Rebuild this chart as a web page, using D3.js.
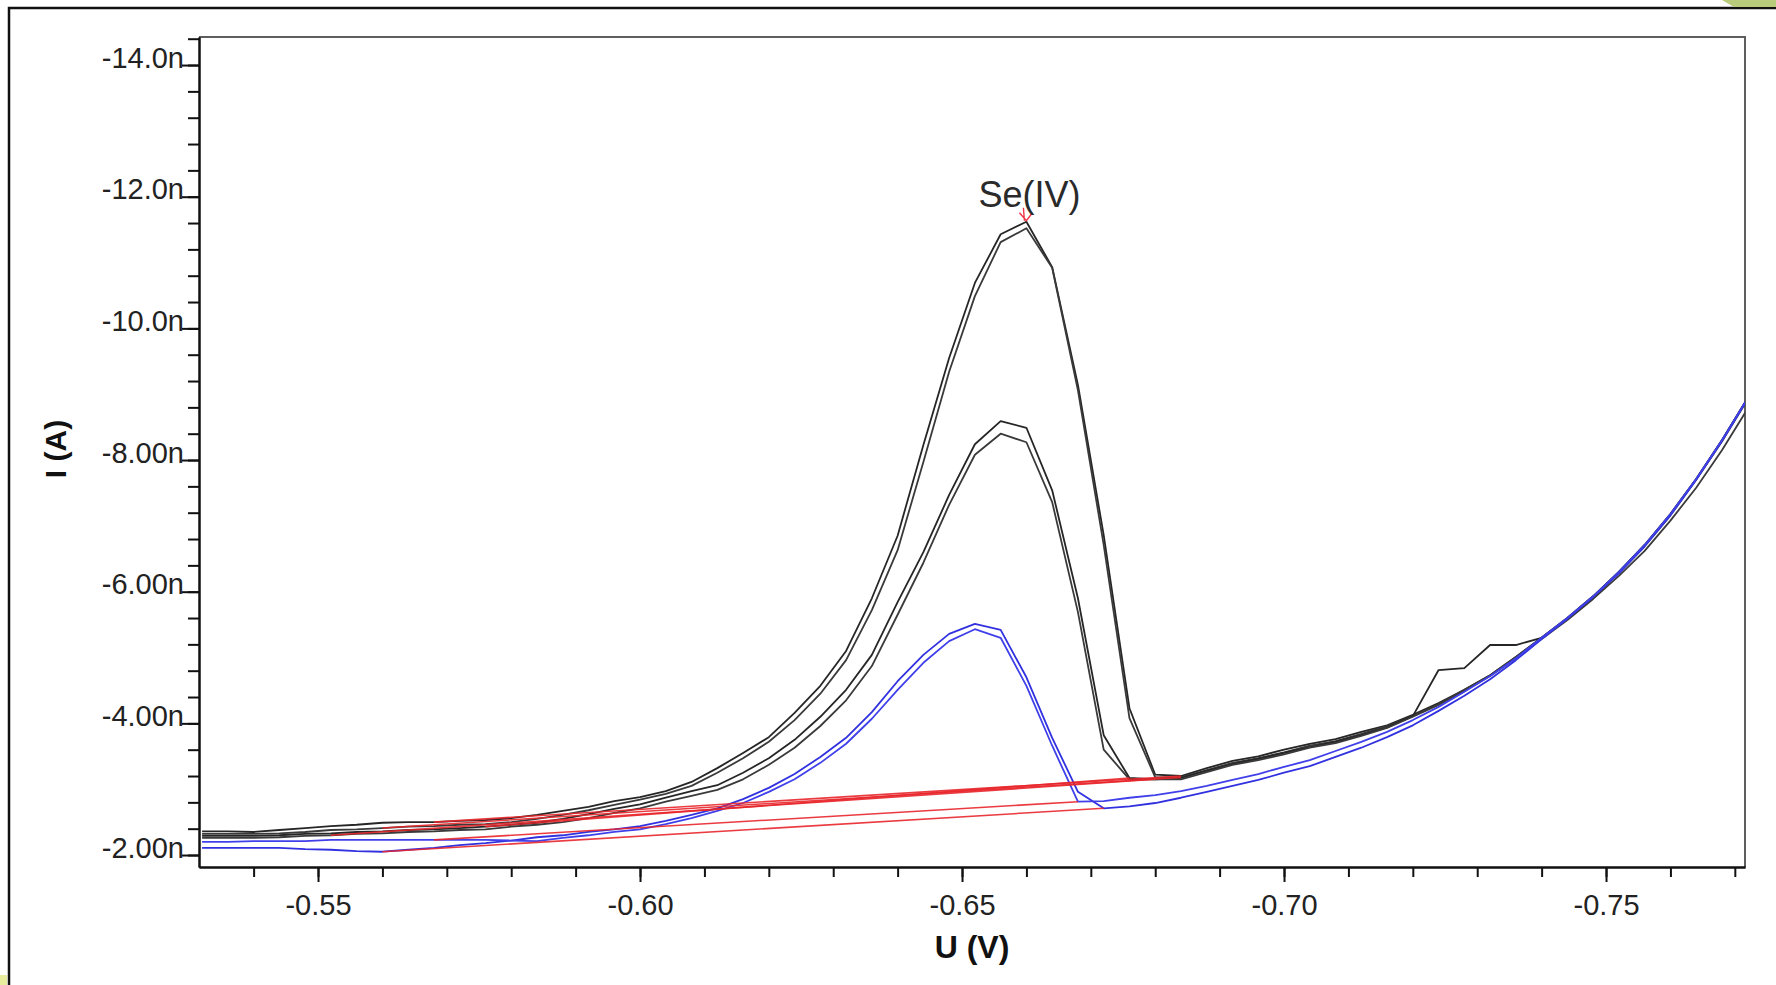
<!DOCTYPE html>
<html>
<head>
<meta charset="utf-8">
<script src="https://cdn.jsdelivr.net/npm/d3@7"></script>
<style>
	html, body { margin: 0; padding: 0; background: #fff; }
	svg { display: block; font-family: "Liberation Sans", Arial, sans-serif; }
	.axis path, .axis line { stroke: #111; stroke-width: 2; }
	.axis text { fill: #222; font-size: 29px; font-family: "Liberation Sans", Arial, sans-serif; }
</style>
</head>
<body>
<div id="chart"></div>
<script>
// potential steps (V)
var potentials = [
	-0.532, -0.536, -0.540, -0.544, -0.548, -0.552, -0.556, -0.560, -0.564, -0.568,
	-0.572, -0.576, -0.580, -0.584, -0.588, -0.592, -0.596, -0.600, -0.604, -0.608,
	-0.612, -0.616, -0.620, -0.624, -0.628, -0.632, -0.636, -0.640, -0.644, -0.648,
	-0.652, -0.656, -0.660, -0.664, -0.668, -0.672, -0.676, -0.680, -0.684, -0.688,
	-0.692, -0.696, -0.700, -0.704, -0.708, -0.712, -0.716, -0.720, -0.724, -0.728,
	-0.732, -0.736, -0.740, -0.744, -0.748, -0.752, -0.756, -0.760, -0.764, -0.768,
	-0.772
];
// currents (nA)
var high1 = [
	-2.36, -2.36, -2.35, -2.38, -2.41, -2.44, -2.46, -2.49, -2.50, -2.50,
	-2.52, -2.53, -2.56, -2.61, -2.67, -2.73, -2.82, -2.88, -2.97, -3.11,
	-3.32, -3.55, -3.79, -4.16, -4.57, -5.10, -5.90, -6.85, -8.23, -9.55,
	-10.69, -11.43, -11.62, -10.93, -9.14, -6.86, -4.23, -3.22, -3.20, -3.32,
	-3.43, -3.50, -3.60, -3.69, -3.76, -3.87, -3.97, -4.13, -4.31, -4.51,
	-4.73, -5.01, -5.30, -5.60, -5.93, -6.30, -6.71, -7.18, -7.71, -8.30,
	-8.94
];
var high2 = [
	-2.32, -2.32, -2.32, -2.33, -2.35, -2.38, -2.39, -2.41, -2.43, -2.44,
	-2.46, -2.47, -2.50, -2.55, -2.61, -2.68, -2.76, -2.84, -2.93, -3.05,
	-3.25, -3.47, -3.72, -4.05, -4.45, -4.96, -5.72, -6.63, -7.97, -9.34,
	-10.49, -11.31, -11.52, -10.92, -9.06, -6.71, -4.08, -3.18, -3.18, -3.29,
	-3.40, -3.47, -3.56, -3.66, -3.73, -3.84, -3.96, -4.11, -4.29, -4.51,
	-4.73, -5.01, -5.30, -5.59, -5.91, -6.29, -6.69, -7.16, -7.70, -8.28,
	-8.92
];
var mid1 = [
	-2.29, -2.29, -2.29, -2.30, -2.32, -2.33, -2.35, -2.36, -2.38, -2.39,
	-2.41, -2.43, -2.46, -2.49, -2.55, -2.62, -2.70, -2.77, -2.87, -2.97,
	-3.06, -3.25, -3.47, -3.75, -4.10, -4.51, -5.04, -5.84, -6.60, -7.47,
	-8.24, -8.59, -8.49, -7.54, -5.90, -3.82, -3.17, -3.15, -3.17, -3.28,
	-3.38, -3.46, -3.55, -3.64, -3.72, -3.82, -3.94, -4.11, -4.81, -4.84,
	-5.19, -5.19, -5.30, -5.60, -5.93, -6.30, -6.71, -7.18, -7.71, -8.30,
	-8.94
];
var mid2 = [
	-2.26, -2.26, -2.26, -2.27, -2.29, -2.30, -2.32, -2.33, -2.35, -2.36,
	-2.38, -2.39, -2.43, -2.46, -2.50, -2.56, -2.64, -2.71, -2.81, -2.90,
	-2.99, -3.15, -3.37, -3.63, -3.96, -4.35, -4.87, -5.65, -6.44, -7.32,
	-8.08, -8.40, -8.27, -7.36, -5.69, -3.60, -3.15, -3.15, -3.15, -3.26,
	-3.37, -3.44, -3.53, -3.63, -3.70, -3.81, -3.93, -4.10, -4.28, -4.49,
	-4.72, -4.99, -5.28, -5.57, -5.89, -6.24, -6.62, -7.08, -7.58, -8.15,
	-8.78
];
var blue1 = [
	-2.11, -2.11, -2.11, -2.11, -2.09, -2.08, -2.06, -2.05, -2.08, -2.11,
	-2.15, -2.18, -2.22, -2.27, -2.30, -2.35, -2.39, -2.44, -2.52, -2.61,
	-2.71, -2.85, -3.02, -3.23, -3.49, -3.78, -4.17, -4.64, -5.04, -5.36,
	-5.51, -5.42, -4.70, -3.78, -2.96, -2.71, -2.74, -2.79, -2.87, -2.96,
	-3.05, -3.14, -3.25, -3.35, -3.49, -3.63, -3.79, -3.97, -4.19, -4.42,
	-4.67, -4.96, -5.28, -5.59, -5.92, -6.28, -6.69, -7.16, -7.70, -8.29,
	-8.93
];
var blue2 = [
	-2.20, -2.20, -2.21, -2.21, -2.21, -2.23, -2.23, -2.23, -2.23, -2.23,
	-2.23, -2.23, -2.22, -2.21, -2.26, -2.30, -2.35, -2.39, -2.47, -2.56,
	-2.67, -2.79, -2.96, -3.15, -3.40, -3.69, -4.07, -4.51, -4.92, -5.25,
	-5.43, -5.30, -4.57, -3.66, -2.81, -2.82, -2.87, -2.91, -2.97, -3.05,
	-3.14, -3.23, -3.34, -3.44, -3.58, -3.72, -3.87, -4.05, -4.25, -4.48,
	-4.72, -4.99, -5.30, -5.60, -5.93, -6.30, -6.71, -7.18, -7.71, -8.30,
	-8.94
];
// baseline start / end index for each curve (same order as curves below)
var baselineFrom = [9, 7, 11, 5, 7, 9];
var baselineTo = [38, 38, 36, 37, 35, 34];
var peakIndex = 32;
var peakLabel = 'Se(IV)';

var yMajorTicks = [-2, -4, -6, -8, -10, -12, -14];
var yTickLabels = ['-2.00n', '-4.00n', '-6.00n', '-8.00n', '-10.0n', '-12.0n', '-14.0n'];
var xMajorTicks = [-0.55, -0.60, -0.65, -0.70, -0.75];
var xTickLabels = ['-0.55', '-0.60', '-0.65', '-0.70', '-0.75'];
var xTitle = 'U (V)';
var yTitle = 'I (A)';

var curves = [
	{values: high1, color: '#262626'},
	{values: high2, color: '#3a3a3a'},
	{values: mid1, color: '#262626'},
	{values: mid2, color: '#3a3a3a'},
	{values: blue1, color: '#3131e0'},
	{values: blue2, color: '#4040ea'}
];

var W = 1776, H = 985;
var margin = {top: 37, right: 31, bottom: 118, left: 199};
var width = W - margin.left - margin.right;
var height = H - margin.top - margin.bottom;

var root = d3.select('#chart').append('svg')
	.attr('width', W)
	.attr('height', H);

// page frame left over from the slide
root.append('path')
	.attr('d', 'M9,990 V8 H1790')
	.attr('fill', 'none')
	.attr('stroke', '#111')
	.attr('stroke-width', 2.5);
root.append('polygon')
	.attr('points', '1722,0 1776,0 1776,7 1734,7')
	.attr('fill', '#b8cc7c');
root.append('rect')
	.attr('x', 0).attr('y', 975).attr('width', 7).attr('height', 10)
	.attr('fill', '#e9ec9c');

var svg = root.append('g')
	.attr('transform', 'translate(' + margin.left + ',' + margin.top + ')');

var x = d3.scaleLinear().domain([-0.53152, -0.77158]).range([0, width]);
var y = d3.scaleLinear().domain([-1.818, -14.426]).range([height, 0]);

svg.append('clipPath').attr('id', 'plotClip')
	.append('rect').attr('width', width).attr('height', height);

// top and right frame of the plot
svg.append('path')
	.attr('d', 'M0,0 H' + width + ' V' + height)
	.attr('fill', 'none')
	.attr('stroke', '#5e5e5e')
	.attr('stroke-width', 2);

// y axis: minor then major ticks
svg.append('g')
	.attr('class', 'axis')
	.call(d3.axisLeft(y).tickValues(d3.range(-2, -14.5, -0.4)).tickSize(11).tickSizeOuter(0).tickFormat(''));
var yAxis = svg.append('g')
	.attr('class', 'axis')
	.call(d3.axisLeft(y).tickValues(yMajorTicks).tickSize(17).tickSizeOuter(0)
		.tickFormat(function(d, i) { return yTickLabels[i]; }));
yAxis.selectAll('text')
	.attr('x', -15)
	.attr('dy', '2px');

// x axis
svg.append('g')
	.attr('class', 'axis')
	.attr('transform', 'translate(0,' + height + ')')
	.call(d3.axisBottom(x).tickValues(d3.range(-0.54, -0.775, -0.01)).tickSize(10).tickSizeOuter(0).tickFormat(''));
svg.append('g')
	.attr('class', 'axis')
	.attr('transform', 'translate(0,' + height + ')')
	.call(d3.axisBottom(x).tickValues(xMajorTicks).tickSize(15).tickSizeOuter(0).tickPadding(12)
		.tickFormat(function(d, i) { return xTickLabels[i]; }));

var plot = svg.append('g').attr('clip-path', 'url(#plotClip)');

var line = d3.line()
	.x(function(d, i) { return x(potentials[i]); })
	.y(function(d) { return y(d); });

// black curves first, blue on top
curves.forEach(function(c) {
	plot.append('path')
		.datum(c.values)
		.attr('d', line)
		.attr('fill', 'none')
		.attr('stroke', c.color)
		.attr('stroke-width', 1.8)
		.attr('stroke-linejoin', 'round');
});

// baselines under each peak
var segment = d3.line()
	.x(function(d) { return x(d[0]); })
	.y(function(d) { return y(d[1]); });
curves.forEach(function(c, s) {
	var a = baselineFrom[s], b = baselineTo[s];
	plot.append('path')
		.datum([[potentials[a], c.values[a]], [potentials[b], c.values[b]]])
		.attr('d', segment)
		.attr('fill', 'none')
		.attr('stroke', '#e8262b')
		.attr('stroke-opacity', 0.9)
		.attr('stroke-width', 1.6);
});

// peak marker + label
var px = x(potentials[peakIndex]), py = y(high1[peakIndex]);
svg.append('path')
	.attr('d', 'M' + (px - 7) + ',' + (py - 9) + ' L' + px + ',' + (py - 1) + ' L' + (px + 6) + ',' + (py - 9) +
		' M' + (px - 2) + ',' + (py - 1) + ' L' + (px - 3) + ',' + (py - 14))
	.attr('fill', 'none')
	.attr('stroke', '#ee3344')
	.attr('stroke-width', 1.4);
svg.append('text')
	.attr('x', px + 3)
	.attr('y', py - 15)
	.attr('text-anchor', 'middle')
	.attr('font-size', 36)
	.attr('fill', '#2a2a2a')
	.text(peakLabel);

// axis titles
svg.append('text')
	.attr('x', 773)
	.attr('y', 921)
	.attr('text-anchor', 'middle')
	.attr('font-size', 32)
	.attr('font-weight', 'bold')
	.attr('fill', '#111')
	.text(xTitle);
root.append('text')
	.attr('transform', 'translate(66,449) rotate(-90)')
	.attr('text-anchor', 'middle')
	.attr('font-size', 30)
	.attr('font-weight', 'bold')
	.attr('fill', '#111')
	.text(yTitle);
</script>
</body>
</html>
